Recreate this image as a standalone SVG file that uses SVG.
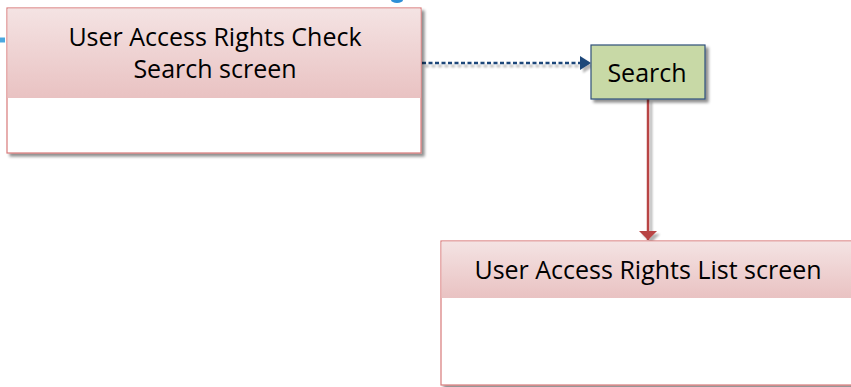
<svg xmlns="http://www.w3.org/2000/svg" width="851" height="387" viewBox="0 0 851 387">
<defs>
<linearGradient id="hdr" x1="0" y1="0" x2="0" y2="1">
<stop offset="0" stop-color="#f4e3e3"/>
<stop offset="1" stop-color="#e9c2c2"/>
</linearGradient>
<filter id="sh" x="-10%" y="-10%" width="130%" height="140%">
<feGaussianBlur in="SourceAlpha" stdDeviation="1.5"/>
<feOffset dx="3" dy="3"/>
<feComponentTransfer><feFuncA type="linear" slope="0.45"/></feComponentTransfer>
<feMerge><feMergeNode/><feMergeNode in="SourceGraphic"/></feMerge>
</filter>
<filter id="lsh" filterUnits="userSpaceOnUse" x="0" y="0" width="851" height="387">
<feGaussianBlur in="SourceAlpha" stdDeviation="1"/>
<feOffset dx="3" dy="3"/>
<feComponentTransfer><feFuncA type="linear" slope="0.3"/></feComponentTransfer>
<feMerge><feMergeNode/><feMergeNode in="SourceGraphic"/></feMerge>
</filter>
<marker id="ab" markerWidth="11" markerHeight="14" refX="10" refY="7" orient="auto" markerUnits="userSpaceOnUse">
<path d="M0,0 L11,7 L0,14 Z" fill="#1f477a"/>
</marker>
<marker id="ar" markerWidth="18" markerHeight="10" refX="9" refY="9" orient="0" markerUnits="userSpaceOnUse">
<path d="M0,0 L18,0 L9,9 Z" fill="#b84444"/>
</marker>
</defs>
<style>
.t{font-family:"Open Sans","Liberation Sans",sans-serif;fill:#000;text-anchor:middle}
.box{fill:#fff;stroke:#d87a7a;stroke-width:1.2}
</style>
<path d="M0,40 H5" stroke="#4aa8e0" stroke-width="5"/>
<ellipse cx="397" cy="0" rx="6" ry="3" fill="#2e8fd6"/>
<g id="connectors" filter="url(#lsh)">
<path d="M422,63 H590" stroke="#1f477a" stroke-width="2.5" stroke-dasharray="4,2.5" fill="none" marker-end="url(#ab)"/>
<path d="M648,99 V240" stroke="#b84444" stroke-width="2.5" fill="none" marker-end="url(#ar)"/>
</g>
<g id="node-search-screen">
<g filter="url(#sh)">
<rect x="7" y="8" width="414" height="145" class="box"/>
<rect x="7.6" y="8.6" width="412.8" height="89.4" fill="url(#hdr)"/>
</g>
<text class="t" x="215" y="46" font-size="25">User Access Rights Check</text>
<text class="t" x="215" y="78" font-size="25">Search screen</text>
</g>
<g id="node-search">
<rect x="591" y="45" width="114" height="54" fill="#c8d9a6" stroke="#2f4f7a" stroke-width="1.2" filter="url(#sh)"/>
<text class="t" x="647" y="82" font-size="25">Search</text>
</g>
<g id="node-list-screen">
<g filter="url(#sh)">
<rect x="441" y="241" width="416" height="144" class="box"/>
<rect x="441.6" y="241.6" width="415" height="56.4" fill="url(#hdr)"/>
</g>
<text class="t" x="648" y="279" font-size="25">User Access Rights List screen</text>
</g>
</svg>
